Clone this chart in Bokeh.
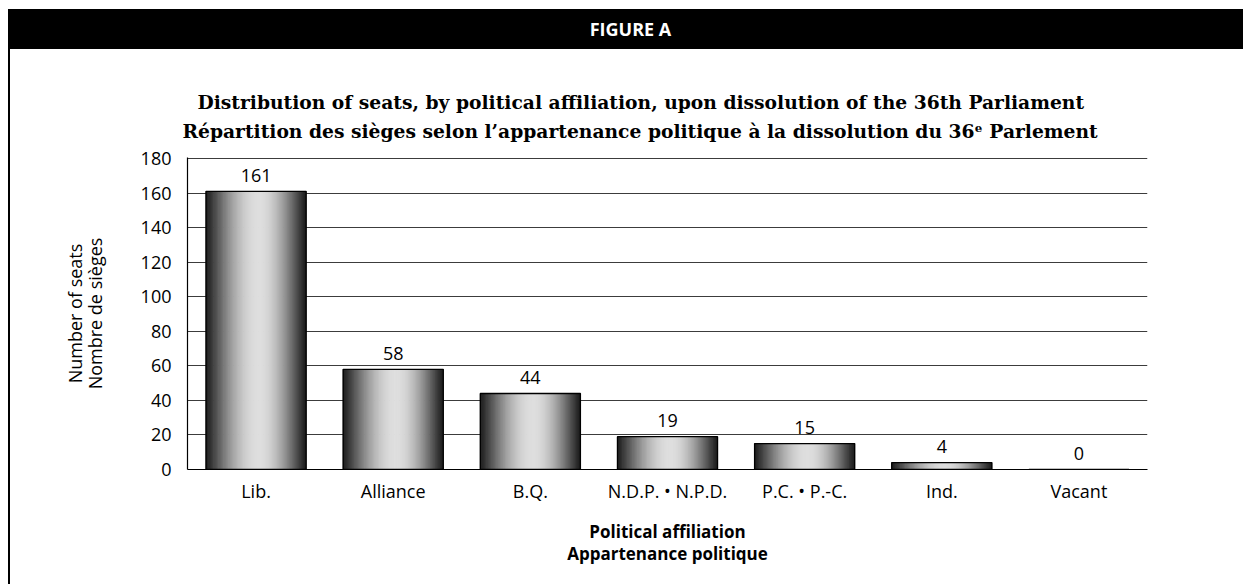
import math
from bokeh.plotting import figure
from bokeh.models import ColumnDataSource, FixedTicker, Range1d, Div, Spacer, Title
from bokeh.layouts import column, row
from bokeh.core.properties import value
from bokeh.embed import file_html
from bokeh.resources import INLINE

# ---------------- data ----------------
categories = ["Lib.", "Alliance", "B.Q.", "N.D.P. \u2022 N.P.D.", "P.C. \u2022 P.-C.", "Ind.", "Vacant"]
seats = [161, 58, 44, 19, 15, 4, 0]
y_ticks = [0, 20, 40, 60, 80, 100, 120, 140, 160, 180]
header_text = "FIGURE A"
title_en = "Distribution of seats, by political affiliation, upon dissolution of the 36th Parliament"
title_fr = "R\u00e9partition des si\u00e8ges selon l\u2019appartenance politique \u00e0 la dissolution du 36\u1d49 Parlement"
ylabel_en = "Number of seats"
ylabel_fr = "Nombre de si\u00e8ges"
xlabel_en = "Political affiliation"
xlabel_fr = "Appartenance politique"

SANS = "Open Sans"
SERIF = "DejaVu Serif"

# ---------------- layout ----------------
W, H = 1233, 535
L, R, T, B = 177, 96, 108, 115
FW, FH = W - L - R, H - T - B  # 960 x 312

p = figure(width=W, height=H, x_range=Range1d(-0.5, len(categories) - 0.5),
           y_range=Range1d(0, 180.6),
           output_backend="svg", toolbar_location=None, margin=0,
           min_border_left=L, min_border_right=R, min_border_top=T, min_border_bottom=B)
p.outline_line_color = None
p.background_fill_color = "white"
p.border_fill_color = "white"


def style_title(t):
    t.text_font = SERIF
    t.text_font_size = "18.7px"
    t.text_font_style = "bold"
    t.text_color = "black"
    t.align = "left"


# outer line (plot title) and inner line (closest to the frame)
p.title.text = title_en
style_title(p.title)
p.title.offset = 10
p.title.standoff = -20
t2 = Title(text=title_fr)
style_title(t2)
t2.offset = -5
t2.standoff = 31
p.add_layout(t2, "above")

p.xgrid.visible = False
p.ygrid.ticker = FixedTicker(ticks=y_ticks)
p.ygrid.grid_line_color = "#3c3c3c"
p.ygrid.grid_line_width = 1

p.yaxis.ticker = FixedTicker(ticks=y_ticks)
p.xaxis.ticker = FixedTicker(ticks=list(range(len(categories))))
p.xaxis.major_label_overrides = {i: c for i, c in enumerate(categories)}
for ax in (p.xaxis, p.yaxis):
    ax.axis_line_color = "black"
    ax.axis_line_width = 1.2
    ax.major_tick_line_color = None
    ax.minor_tick_line_color = None
    ax.major_label_text_font = SANS
    ax.major_label_text_font_size = "18px"
    ax.major_label_text_color = "black"
    ax.axis_label_text_color = "black"
    ax.axis_label_text_font = SANS
p.yaxis.major_label_standoff = 10
p.xaxis.major_label_standoff = 3

p.yaxis.axis_label = ylabel_en + "\n" + ylabel_fr
p.yaxis.axis_label_text_font_size = "18px"
p.yaxis.axis_label_text_font_style = "normal"
p.yaxis.axis_label_text_line_height = 0.8
p.yaxis.axis_label_standoff = 31

p.xaxis.axis_label = xlabel_en + "\n" + xlabel_fr
p.xaxis.axis_label_text_font_size = "17px"
p.xaxis.axis_label_text_font_style = "bold"
p.xaxis.axis_label_text_line_height = 0.97
p.xaxis.axis_label_standoff = 14

# ---------------- gradient bars ----------------
BAR_W = 0.73
N = 80
PEAK = 0.53
sx, stop, sw, sc = [], [], [], []
for i, v in enumerate(seats):
    for k in range(N):
        t = (k + 0.5) / N
        if t < PEAK:
            f = math.sin(math.pi / 2 * t / PEAK)
        else:
            f = math.sin(math.pi / 2 * (1 - t) / (1 - PEAK))
        b = 0.11 + 0.76 * f ** 1.1
        g = int(round(b * 255))
        sx.append(i - BAR_W / 2 + t * BAR_W)
        stop.append(v)
        sw.append(BAR_W / N * 1.6)
        sc.append("#%02x%02x%02x" % (g, g, g))
slices = ColumnDataSource(dict(x=sx, top=stop, w=sw, c=sc))
p.vbar(x="x", top="top", bottom=0, width="w", source=slices, fill_color="c", line_color=None)

bars = ColumnDataSource(dict(x=list(range(len(categories))), top=seats, lab=[str(v) for v in seats]))
p.vbar(x="x", top="top", bottom=0, width=BAR_W, source=bars, fill_color=None,
       line_color="black", line_width=1.3)
p.text(x="x", y="top", text="lab", source=bars, text_align="center", text_baseline="alphabetic",
       y_offset=-16, text_font=value(SANS), text_font_size="18px", text_color="black")

# ---------------- frame decorations ----------------
header = Div(text=header_text, width=W + 2, height=40, margin=0,
             styles={"background-color": "black", "color": "white", "font-family": SANS,
                     "font-weight": "bold", "font-size": "18px", "text-align": "center",
                     "line-height": "40px", "text-indent": "10px"})
side_line = Div(text="", width=2, height=H, margin=0, styles={"background-color": "black"})

layout = row(Spacer(width=8, margin=0),
             column(Spacer(height=9, margin=0), header, row(side_line, p, margin=0, spacing=0),
                    margin=0, spacing=0),
             margin=0, spacing=0)

open("out.html", "w").write(file_html(layout, INLINE))
